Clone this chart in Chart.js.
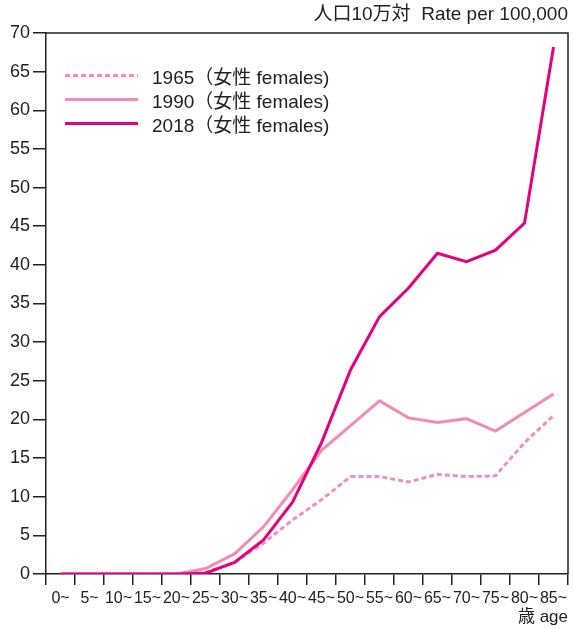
<!DOCTYPE html>
<html>
<head>
<meta charset="utf-8">
<script src="https://cdn.jsdelivr.net/npm/chart.js@4/dist/chart.umd.min.js"></script>
<style>
  html, body { margin: 0; padding: 0; background: #fff; }
  #wrap { position: relative; width: 573px; height: 629px; }
  #legend { position: absolute; left: 0; top: 0; font-family: 'Liberation Sans', 'Noto Sans CJK JP', sans-serif; font-size: 19px; color: #222; }
  .row { position: absolute; left: 65px; height: 24px; display: flex; align-items: center; white-space: nowrap; }
  .swatch { width: 73px; height: 3px; margin-right: 14px; }
</style>
</head>
<body>
<div id="wrap">
  <canvas id="c" width="573" height="629"></canvas>
  <div id="legend"></div>
</div>
<script>
const ageLabels = ['0~','5~','10~','15~','20~','25~','30~','35~','40~','45~','50~','55~','60~','65~','70~','75~','80~','85~'];
const seriesNames = ['1965（女性 females)', '1990（女性 females)', '2018（女性 females)'];
const rate1965 = [0, 0, 0, 0, 0, 0.2, 1.5, 4.0, 7.0, 9.6, 12.6, 12.6, 11.9, 12.9, 12.6, 12.7, 17.0, 20.5];
const rate1990 = [0, 0, 0, 0, 0, 0.7, 2.6, 6.1, 10.9, 16.0, 19.2, 22.4, 20.2, 19.6, 20.1, 18.5, 20.9, 23.3];
const rate2018 = [0, 0, 0, 0, 0, 0.1, 1.5, 4.4, 9.3, 17.0, 26.4, 33.3, 37.0, 41.5, 40.4, 41.9, 45.4, 68.2];
const yMin = 0, yMax = 70, yStep = 5;
const titleText = '人口10万対  Rate per 100,000';
const xTitleText = '歳 age';

const FONT = "'Liberation Sans', 'Noto Sans CJK JP', sans-serif";
const colors = ['#f190be', '#f08cb8', '#e4007f'];
const dashes = [[5, 3], [], []];
const seriesData = [rate1965, rate1990, rate2018];

const frame = {
  id: 'frame',
  afterDraw(chart) {
    const a = chart.chartArea, ctx = chart.ctx;
    ctx.save();
    ctx.strokeStyle = '#222';
    ctx.lineWidth = 1.5;
    ctx.beginPath();
    ctx.moveTo(a.left, a.top);
    ctx.lineTo(a.right, a.top);
    ctx.lineTo(a.right, a.bottom);
    ctx.stroke();
    ctx.restore();
  }
};

const chart = new Chart(document.getElementById('c'), {
  type: 'line',
  data: {
    labels: ageLabels,
    datasets: seriesData.map((d, i) => ({
      label: seriesNames[i],
      data: d,
      borderColor: colors[i],
      backgroundColor: colors[i],
      borderWidth: 3,
      borderDash: dashes[i],
      pointRadius: 0,
      tension: 0,
      fill: false,
      order: 3 - i
    }))
  },
  options: {
    responsive: false,
    animation: false,
    devicePixelRatio: 1,
    layout: { padding: { left: 0, right: 5, top: 0, bottom: 0 } },
    plugins: {
      legend: { display: false },
      tooltip: { enabled: false },
      title: {
        display: true,
        text: titleText,
        align: 'end',
        color: '#222',
        font: { family: FONT, size: 19, weight: 'normal', lineHeight: 1 },
        padding: { top: 5, bottom: 9 }
      }
    },
    scales: {
      x: {
        type: 'category',
        offset: true,
        grid: { offset: true, drawOnChartArea: false, drawTicks: true, tickLength: 11, color: '#222', lineWidth: 1.5 },
        border: { display: true, color: '#222', width: 1.5 },
        ticks: { autoSkip: false, maxRotation: 0, minRotation: 0, color: '#222', padding: 4, font: { family: FONT, size: 16 } },
        title: { display: true, text: xTitleText, align: 'end', color: '#222', font: { family: FONT, size: 17 }, padding: { top: 0, bottom: 1 } },
        afterFit(s) { s.height = 55; }
      },
      y: {
        min: yMin, max: yMax,
        grid: { drawOnChartArea: false, drawTicks: true, tickLength: 13, color: '#222', lineWidth: 1.5 },
        border: { display: true, color: '#222', width: 1.5 },
        ticks: { stepSize: yStep, color: '#222', padding: 3, font: { family: FONT, size: 18 } },
        afterFit(s) { s.width = 46; }
      }
    }
  },
  plugins: [frame]
});

// HTML legend built from the chart datasets
const legendEl = document.getElementById('legend');
const rowCenters = [75, 99, 123];
chart.data.datasets.forEach((ds, i) => {
  const row = document.createElement('div');
  row.className = 'row';
  row.style.top = (rowCenters[i] - 12) + 'px';
  const sw = document.createElement('span');
  sw.className = 'swatch';
  if (ds.borderDash && ds.borderDash.length) {
    sw.style.background = `repeating-linear-gradient(to right, ${ds.borderColor} 0 ${ds.borderDash[0]}px, transparent ${ds.borderDash[0]}px ${ds.borderDash[0] + ds.borderDash[1]}px)`;
  } else {
    sw.style.background = ds.borderColor;
  }
  const tx = document.createElement('span');
  tx.textContent = ds.label;
  row.appendChild(sw);
  row.appendChild(tx);
  legendEl.appendChild(row);
});
</script>
</body>
</html>
